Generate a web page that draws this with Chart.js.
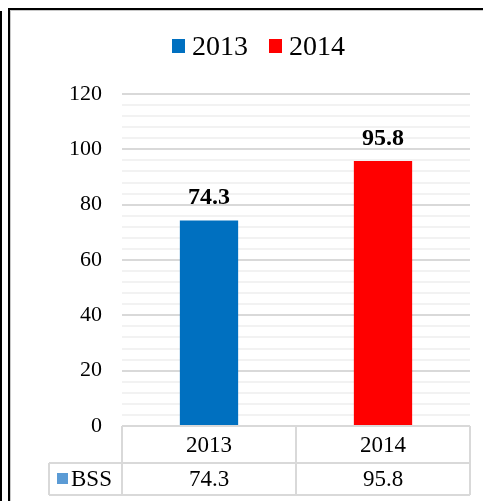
<!DOCTYPE html>
<html>
<head>
<meta charset="utf-8">
<script src="https://cdn.jsdelivr.net/npm/chart.js@4.4.0/dist/chart.umd.min.js"></script>
<style>
  body { margin: 0; background: #fff; }
</style>
</head>
<body>
<canvas id="bss-chart" width="483" height="501"></canvas>
<script>
'use strict';

const years = ['2013', '2014'];
const bssValues = [74.3, 95.8];
const yearColors = ['#0070C0', '#FF0000'];
const seriesName = 'BSS';
const seriesColor = '#5B9BD5';
const yTicks = [0, 20, 40, 60, 80, 100, 120];

const serif = "'Liberation Serif', 'Times New Roman', serif";
const gridMajor = '#d9d9d9';
const gridMinor = '#f2f2f2';

/////////////////////
//// frame, legend, labels, data table

const extras = {
  id: 'extras',
  beforeDraw(chart) {
    const c = chart.ctx;
    c.save();
    c.fillStyle = '#fff';
    c.fillRect(0, 0, chart.width, chart.height);
    c.fillStyle = '#000';
    c.fillRect(0, 11, 2, chart.height - 11);
    c.fillRect(8, 8, 2, chart.height - 8);
    c.fillRect(8, 8, chart.width - 8, 2);
    c.fillStyle = '#c8c8c8';
    c.fillRect(10, 10, 1, chart.height - 10);
    c.fillRect(10, 10, chart.width - 10, 1);

    // legend
    c.font = '28px ' + serif;
    c.textBaseline = 'alphabetic';
    let lx = 172;
    years.forEach((y, i) => {
      c.fillStyle = yearColors[i];
      c.fillRect(lx, 39, 13, 14);
      c.fillStyle = '#000';
      c.fillText(y, lx + 20, 55);
      lx += 20 + c.measureText(y).width + 21;
    });
    c.restore();
  },
  afterDatasetsDraw(chart) {
    const c = chart.ctx;
    c.save();
    c.font = 'bold 24px ' + serif;
    c.fillStyle = '#000';
    c.textAlign = 'center';
    c.textBaseline = 'alphabetic';
    chart.getDatasetMeta(0).data.forEach((bar, i) => {
      c.fillText(bssValues[i].toFixed(1), bar.x, bar.y - 16);
    });
    c.restore();
  },
  afterDraw(chart) {
    const c = chart.ctx;
    const area = chart.chartArea;
    const xs = chart.scales.x;
    const colW = area.width / years.length;
    const top = area.bottom;
    const mid = top + 37;
    const bot = mid + 32;
    const rowLeft = 49;
    c.save();
    c.strokeStyle = gridMajor;
    c.lineWidth = 2;
    c.beginPath();
    c.moveTo(area.left, top); c.lineTo(area.right, top);
    c.moveTo(rowLeft, mid); c.lineTo(area.right, mid);
    c.moveTo(rowLeft, bot); c.lineTo(area.right, bot);
    c.moveTo(rowLeft, mid); c.lineTo(rowLeft, bot);
    for (let i = 0; i <= years.length; i++) {
      const px = area.left + i * colW;
      c.moveTo(px, top); c.lineTo(px, bot);
    }
    c.stroke();

    c.font = '23px ' + serif;
    c.fillStyle = '#000';
    c.textAlign = 'center';
    c.textBaseline = 'middle';
    years.forEach((y, i) => {
      const cx = xs.getPixelForValue(i);
      c.fillText(y, cx, (top + mid) / 2 + 1);
      c.fillText(bssValues[i].toFixed(1), cx, (mid + bot) / 2 + 1);
    });
    c.fillStyle = seriesColor;
    c.fillRect(57, 473, 11, 11);
    c.fillStyle = '#000';
    c.textAlign = 'left';
    c.fillText(seriesName, 71, (mid + bot) / 2 + 1);
    c.restore();
  }
};

///////////////////////
//// Bar chart

const ctx = document.getElementById('bss-chart').getContext('2d');
const chart = new Chart(ctx, {
  type: 'bar',
  data: {
    labels: years,
    datasets: [{
      label: seriesName,
      data: bssValues,
      backgroundColor: yearColors,
      borderWidth: 0,
      categoryPercentage: 1,
      barPercentage: 0.335
    }]
  },
  options: {
    responsive: false,
    animation: false,
    layout: {
      padding: { top: 94, right: 13, bottom: 75, left: 0 }
    },
    plugins: {
      legend: { display: false },
      tooltip: { enabled: false }
    },
    scales: {
      x: { display: false },
      y: {
        min: 0,
        max: 120,
        afterFit(scale) { scale.width = 122; },
        border: { display: false },
        grid: {
          drawTicks: false,
          lineWidth: 2,
          color: (c) => (c.tick && c.tick.value % 20 === 0 ? gridMajor : gridMinor)
        },
        ticks: {
          stepSize: 4,
          autoSkip: false,
          padding: 20,
          color: '#000',
          font: { family: serif, size: 22 },
          callback: (v) => (yTicks.includes(v) ? v : '')
        }
      }
    }
  },
  plugins: [extras]
});
</script>
</body>
</html>
